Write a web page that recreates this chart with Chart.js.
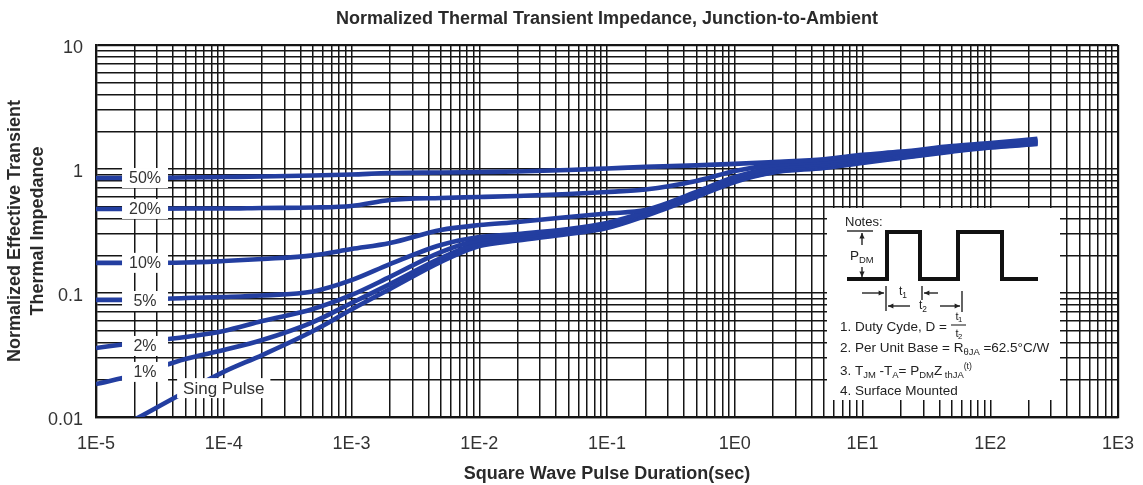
<!DOCTYPE html>
<html>
<head>
<meta charset="utf-8">
<script src="https://cdn.jsdelivr.net/npm/chart.js@4.4.1/dist/chart.umd.min.js"></script>
<style>
html,body{margin:0;padding:0;background:#fff;}
#wrap{width:1143px;height:485px;}
</style>
</head>
<body>
<div id="wrap"><canvas id="c" width="1143" height="485"></canvas></div>
<script>
// ---- data ----
const pulseTimes = [1e-5, 2e-5, 5e-5, 1e-4, 2e-4, 5e-4, 1e-3, 2e-3, 5e-3, 1e-2, 2e-2, 5e-2, 1e-1, 2e-1, 5e-1, 1, 2, 5, 10, 20, 50, 100, 234];
const z50 = [0.846, 0.846, 0.854, 0.862, 0.870, 0.886, 0.903, 0.928, 0.937, 0.946, 0.955, 0.982, 1.01, 1.04, 1.07, 1.10, 1.14, 1.20, 1.30, 1.38, 1.53, 1.62, 1.75];
const z20 = [0.476, 0.476, 0.480, 0.480, 0.485, 0.489, 0.503, 0.562, 0.584, 0.594, 0.606, 0.629, 0.653, 0.683, 0.80, 0.963, 1.08, 1.15, 1.25, 1.35, 1.49, 1.59, 1.71];
const z10 = [0.175, 0.175, 0.176, 0.181, 0.188, 0.201, 0.226, 0.253, 0.322, 0.353, 0.374, 0.410, 0.438, 0.466, 0.653, 0.862, 1.02, 1.11, 1.215, 1.32, 1.46, 1.56, 1.68];
const z05 = [0.088, 0.088, 0.0912, 0.0929, 0.0955, 0.103, 0.127, 0.171, 0.244, 0.283, 0.299, 0.328, 0.367, 0.450, 0.629, 0.831, 0.982, 1.077, 1.18, 1.285, 1.44, 1.53, 1.65];
const z02 = [0.036, 0.0395, 0.0442, 0.0494, 0.0594, 0.0743, 0.0964, 0.135, 0.214, 0.268, 0.286, 0.316, 0.353, 0.437, 0.617, 0.815, 0.963, 1.057, 1.16, 1.26, 1.41, 1.52, 1.62];
const z01 = [0.01845, 0.0218, 0.0294, 0.0347, 0.0418, 0.0583, 0.083, 0.118, 0.191, 0.253, 0.275, 0.308, 0.343, 0.425, 0.606, 0.80, 0.946, 1.04, 1.14, 1.24, 1.40, 1.50, 1.61];
const zSingle = [null, 0.0095, 0.0159, 0.0231, 0.0316, 0.0494, 0.0736, 0.1077, 0.178, 0.239, 0.265, 0.299, 0.334, 0.418, 0.594, 0.786, 0.937, 1.02, 1.12, 1.23, 1.38, 1.49, 1.59];

const seriesNames = ['D=0.5', 'D=0.2', 'D=0.1', 'D=0.05', 'D=0.02', 'D=0.01', 'Single Pulse'];
const seriesValues = [z50, z20, z10, z05, z02, z01, zSingle];

// curve annotations (text + anchor in data units)
const curveLabels = ['50%', '20%', '10%', '5%', '2%', '1%', 'Sing Pulse'];
const curveLabelTimes = [2.42e-5, 2.42e-5, 2.42e-5, 2.42e-5, 2.42e-5, 2.42e-5, 1.0e-4];
const curveLabelValues = [0.846, 0.476, 0.175, 0.0862, 0.0374, 0.0231, 0.0171];

const xTickLabels = ['1E-5', '1E-4', '1E-3', '1E-2', '1E-1', '1E0', '1E1', '1E2', '1E3'];
const yTickLabels = ['0.01', '0.1', '1', '10'];
const X_MIN_EXP = -5, X_MAX_EXP = 3, Y_MIN_EXP = -2, Y_MAX_EXP = 1;

const titleText = 'Normalized Thermal Transient Impedance, Junction-to-Ambient';
const xTitle = 'Square Wave Pulse Duration(sec)';
const yTitle = ['Normalized Effective Transient', 'Thermal Impedance'];

// ---- styles ----
const FONT = '"Liberation Sans", Arial, Helvetica, sans-serif';
const BLUE = '#233ea0';
const GRID = '#151515';
const TEXT = '#2a2a2a';

function logTicks(minExp, maxExp) {
  const t = [];
  for (let e = minExp; e < maxExp; e++) {
    for (let m = 1; m < 10; m++) t.push({ value: m * Math.pow(10, e) });
  }
  t.push({ value: Math.pow(10, maxExp) });
  return t;
}
function decadeLabel(value, labels, minExp) {
  const e = Math.log10(value);
  const r = Math.round(e);
  if (Math.abs(e - r) < 1e-6) return labels[r - minExp];
  return '';
}

const curveLabelPlugin = {
  id: 'curveLabels',
  afterDatasetsDraw(chart) {
    const { ctx, scales: { x, y } } = chart;
    ctx.save();
    curveLabels.forEach((txt, i) => {
      const px = x.getPixelForValue(curveLabelTimes[i]);
      const py = y.getPixelForValue(curveLabelValues[i]);
      const single = i === curveLabels.length - 1;
      ctx.font = (single ? 17 : 16) + 'px ' + FONT;
      const w = Math.max(ctx.measureText(txt).width + 12, 46);
      const h = 20;
      ctx.fillStyle = '#fff';
      ctx.fillRect(px - w / 2, py - h / 2, w, h);
      ctx.fillStyle = '#333';
      ctx.textAlign = 'center';
      ctx.textBaseline = 'middle';
      ctx.fillText(txt, px, py + 1);
    });
    ctx.restore();
  }
};

function drawRich(ctx, x, y, parts, size) {
  let cx = x;
  parts.forEach(([t, kind]) => {
    let s = size, dy = 0;
    if (kind === 'sub') { s = size * 0.7; dy = size * 0.3; }
    if (kind === 'sup') { s = size * 0.65; dy = -size * 0.35; }
    ctx.font = s + 'px ' + FONT;
    ctx.fillText(t, cx, y + dy);
    cx += ctx.measureText(t).width;
  });
}
function arrow(ctx, x1, y1, x2, y2) {
  const a = Math.atan2(y2 - y1, x2 - x1), L = 6, W = 0.45;
  ctx.beginPath(); ctx.moveTo(x1, y1); ctx.lineTo(x2, y2); ctx.stroke();
  ctx.beginPath();
  ctx.moveTo(x2, y2);
  ctx.lineTo(x2 - L * Math.cos(a - W), y2 - L * Math.sin(a - W));
  ctx.lineTo(x2 - L * Math.cos(a + W), y2 - L * Math.sin(a + W));
  ctx.closePath(); ctx.fill();
}
function vline(ctx, x, y1, y2) { ctx.beginPath(); ctx.moveTo(x, y1); ctx.lineTo(x, y2); ctx.stroke(); }

const notesPlugin = {
  id: 'notes',
  afterDatasetsDraw(chart) {
    const { ctx, chartArea: a } = chart;
    const bx = a.right - 291, by = a.top + 163, bw = 233, bh = 192;
    ctx.save();
    ctx.fillStyle = '#fff';
    ctx.fillRect(bx, by, bw, bh);
    ctx.fillStyle = '#222';
    ctx.strokeStyle = '#111';
    ctx.textAlign = 'left';
    ctx.textBaseline = 'middle';
    const fs = 13.5;
    ctx.font = '13px ' + FONT;
    ctx.fillText('Notes:', bx + 18, by + 14);
    // square wave
    const top = by + 24, base = by + 71;
    ctx.lineWidth = 4; ctx.lineJoin = 'miter'; ctx.lineCap = 'butt';
    ctx.beginPath();
    ctx.moveTo(bx + 20, base); ctx.lineTo(bx + 60, base); ctx.lineTo(bx + 60, top);
    ctx.lineTo(bx + 93, top); ctx.lineTo(bx + 93, base); ctx.lineTo(bx + 131, base);
    ctx.lineTo(bx + 131, top); ctx.lineTo(bx + 175, top); ctx.lineTo(bx + 175, base);
    ctx.lineTo(bx + 211, base);
    ctx.stroke();
    // P_DM marker
    ctx.lineWidth = 1.3;
    ctx.beginPath(); ctx.moveTo(bx + 20, top - 1); ctx.lineTo(bx + 46, top - 1); ctx.stroke();
    arrow(ctx, bx + 35, by + 37, bx + 35, by + 25);
    arrow(ctx, bx + 35, by + 59, bx + 35, by + 69);
    drawRich(ctx, bx + 23, by + 48, [['P', 'n'], ['DM', 'sub']], fs);
    // t1 / t2 dimensions
    arrow(ctx, bx + 35, by + 85, bx + 57, by + 85);
    vline(ctx, bx + 59, by + 78, by + 103);
    drawRich(ctx, bx + 72, by + 84, [['t', 'n'], ['1', 'sub']], 12);
    vline(ctx, bx + 95, by + 78, by + 92);
    arrow(ctx, bx + 111, by + 85, bx + 97, by + 85);
    arrow(ctx, bx + 83, by + 98, bx + 61, by + 98);
    drawRich(ctx, bx + 92, by + 98, [['t', 'n'], ['2', 'sub']], 12);
    arrow(ctx, bx + 113, by + 98, bx + 133, by + 98);
    vline(ctx, bx + 135, by + 83, by + 104);
    // notes text
    drawRich(ctx, bx + 13, by + 119, [['1. Duty Cyde, D = ', 'n']], fs);
    ctx.textAlign = 'center';
    drawRich(ctx, bx + 130, by + 109, [['t', 'n'], ['1', 'sub']], 11);
    drawRich(ctx, bx + 130, by + 126, [['t', 'n'], ['2', 'sub']], 11);
    ctx.textAlign = 'left';
    ctx.lineWidth = 1;
    ctx.beginPath(); ctx.moveTo(bx + 124, by + 117); ctx.lineTo(bx + 139, by + 117); ctx.stroke();
    drawRich(ctx, bx + 13, by + 140, [['2. Per Unit Base = R', 'n'], ['\u03B8JA', 'sub'], [' =62.5\u00B0C/W', 'n']], fs);
    drawRich(ctx, bx + 13, by + 163, [['3. T', 'n'], ['JM', 'sub'], [' -T', 'n'], ['A', 'sub'], ['= P', 'n'], ['DM', 'sub'], ['Z', 'n'], [' thJA', 'sub'], ['(t)', 'sup']], fs);
    drawRich(ctx, bx + 13, by + 183, [['4. Surface Mounted', 'n']], fs);
    ctx.restore();
  }
};

const datasets = seriesNames.map((name, i) => ({
  label: name,
  data: pulseTimes.map((t, k) => ({ x: t, y: seriesValues[i][k] })),
  borderColor: BLUE,
  backgroundColor: BLUE,
  borderWidth: 4.6,
  pointRadius: 0,
  pointHoverRadius: 0,
  fill: false,
  cubicInterpolationMode: 'monotone',
  spanGaps: false,
  clip: 0
}));

function gridWidth(ctx) {
  const n = ctx.scale.ticks.length;
  return (ctx.index === 0 || ctx.index === n - 1) ? 2.2 : 1.5;
}

new Chart(document.getElementById('c'), {
  type: 'line',
  data: { datasets },
  options: {
    responsive: false,
    animation: false,
    devicePixelRatio: 1,
    layout: { padding: { left: 0, right: 25, top: 0, bottom: 0 } },
    plugins: {
      legend: { display: false },
      tooltip: { enabled: false },
      title: {
        display: true,
        text: titleText,
        fullSize: false,
        color: TEXT,
        font: { family: FONT, size: 18, weight: 'bold', lineHeight: 1.2 },
        padding: { top: 8, bottom: 15.4 }
      }
    },
    scales: {
      x: {
        type: 'logarithmic',
        min: 1e-5,
        max: 1e3,
        afterBuildTicks: s => { s.ticks = logTicks(X_MIN_EXP, X_MAX_EXP); },
        afterFit: s => { s.height = 68; s.paddingLeft = 0; s.paddingRight = 0; },
        ticks: {
          autoSkip: false,
          maxRotation: 0,
          minRotation: 0,
          padding: 16,
          color: '#333',
          font: { family: FONT, size: 18 },
          callback: v => decadeLabel(v, xTickLabels, X_MIN_EXP)
        },
        grid: { color: GRID, lineWidth: gridWidth, drawTicks: false },
        border: { display: true, color: GRID, width: 2.2 },
        title: {
          display: true,
          text: xTitle,
          color: TEXT,
          font: { family: FONT, size: 18, weight: 'bold', lineHeight: 1.2 },
          padding: { top: 0, bottom: 0.5 }
        }
      },
      y: {
        type: 'logarithmic',
        min: 0.01,
        max: 10,
        afterBuildTicks: s => { s.ticks = logTicks(Y_MIN_EXP, Y_MAX_EXP); },
        afterFit: s => { s.width = 96; s.paddingTop = 0; s.paddingBottom = 0; },
        ticks: {
          autoSkip: false,
          padding: 13,
          labelOffset: 3,
          color: '#333',
          font: { family: FONT, size: 18 },
          callback: v => decadeLabel(v, yTickLabels, Y_MIN_EXP)
        },
        grid: { color: GRID, lineWidth: gridWidth, drawTicks: false },
        border: { display: true, color: GRID, width: 2.2 },
        title: {
          display: true,
          text: yTitle,
          color: TEXT,
          font: { family: FONT, size: 18, weight: 'bold', lineHeight: 1.28 },
          padding: { top: 3.5, bottom: 0 }
        }
      }
    }
  },
  plugins: [curveLabelPlugin, notesPlugin]
});
</script>
</body>
</html>
